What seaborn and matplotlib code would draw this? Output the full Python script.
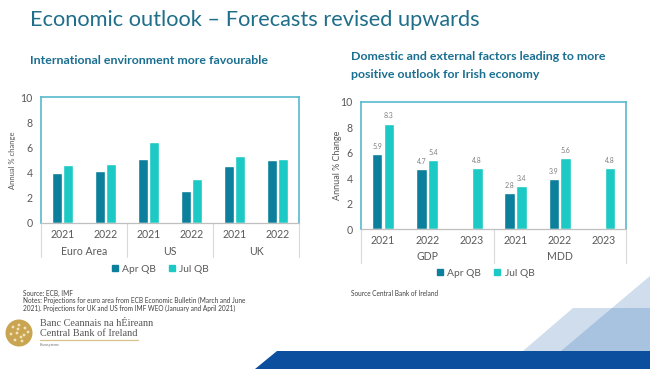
import numpy as np
import pandas as pd
import matplotlib
matplotlib.use("Agg")
import matplotlib.pyplot as plt
from matplotlib.patches import Polygon, Circle
from matplotlib.lines import Line2D
from matplotlib.transforms import blended_transform_factory
import seaborn as sns

# ---------------- data ----------------
series = ["Apr QB", "Jul QB"]

groups_l = ["Euro Area", "US", "UK"]
years_l = ["2021", "2022"]
apr_l = [4.0, 4.1, 5.1, 2.5, 4.5, 5.0]
jul_l = [4.6, 4.7, 6.4, 3.5, 5.3, 5.1]

groups_r = ["GDP", "MDD"]
years_r = ["2021", "2022", "2023"]
apr_r = [5.9, 4.7, np.nan, 2.8, 3.9, np.nan]
jul_r = [8.3, 5.4, 4.8, 3.4, 5.6, 4.8]

yticks = [0, 2, 4, 6, 8, 10]

# ---------------- style ----------------
sns.set_theme(style="white")
plt.rcParams['font.family'] = ['Lato', 'DejaVu Sans']

C_APR = "#0b7f9b"
C_JUL = "#1dc9c4"
C_FRAME = "#58b9cc"
C_TEXT = "#595959"
C_TITLE = "#1f6e8a"
C_SUB = "#1a6f91"

W, H = 650, 369
fig = plt.figure(figsize=(W / 100, H / 100), dpi=100)
fig.patch.set_facecolor("white")


def px(x, y):
    return (x / W, 1 - y / H)


def make_df(groups, years, apr, jul):
    cats = [f"{g}|{y}" for g in groups for y in years]
    rows = []
    for c, a, j in zip(cats, apr, jul):
        rows.append({"cat": c, "series": series[0], "val": a})
        rows.append({"cat": c, "series": series[1], "val": j})
    df = pd.DataFrame(rows).dropna()
    return df, cats


def draw_panel(rect, groups, years, apr, jul, ylabel, ylab_x, ylab_fs,
               sep_depth, grp_y, leg_xy, labels_on):
    ax = fig.add_axes(rect)
    df, cats = make_df(groups, years, apr, jul)
    sns.barplot(data=df, x="cat", y="val", hue="series", order=cats,
                hue_order=series, palette=[C_APR, C_JUL], width=0.53,
                gap=0.1, saturation=1, legend=False, ax=ax)
    ax.set_ylim(0, 10)
    ax.set_xlim(-0.5, len(cats) - 0.5)
    ax.set_yticks(yticks)
    ax.set_yticklabels([str(t) for t in yticks])
    ax.set_xticks(range(len(cats)))
    ax.set_xticklabels([c.split("|")[1] for c in cats])
    ax.tick_params(axis="both", length=0, labelsize=7.6, colors=C_TEXT)
    ax.tick_params(axis="x", pad=4.5)
    ax.tick_params(axis="y", pad=6)
    ax.set_xlabel("")
    ax.set_ylabel(ylabel, fontsize=ylab_fs, color=C_TEXT)
    ax.yaxis.set_label_coords(ylab_x, 0.5)
    for s in ["left", "top", "right"]:
        ax.spines[s].set_color(C_FRAME)
        ax.spines[s].set_linewidth(1.2)
    ax.spines["bottom"].set_color("#bfbfbf")
    ax.spines["bottom"].set_linewidth(0.9)

    tr = blended_transform_factory(ax.transData, ax.transAxes)
    n = len(years)
    for k in range(len(groups) + 1):
        xs = -0.5 + k * n
        ax.plot([xs, xs], [0, -sep_depth], transform=tr, color="#d9d9d9",
                lw=0.8, clip_on=False)
    for k, g in enumerate(groups):
        xc = k * n + (n - 1) / 2
        ax.text(xc, grp_y, g, transform=tr, ha="center", va="center",
                fontsize=7.6, color=C_TEXT)

    if labels_on:
        for cont in ax.containers:
            vals = cont.datavalues
            ax.bar_label(cont, labels=[f"{v:.1f}" for v in vals],
                         padding=3, fontsize=5, color="#7f7f7f")

    handles = [Line2D([0], [0], marker="s", color="none",
                      markerfacecolor=c, markeredgecolor=c, markersize=5)
               for c in [C_APR, C_JUL]]
    ax.legend(handles, series, loc="center", bbox_to_anchor=leg_xy,
              bbox_transform=ax.transAxes, ncol=2, frameon=False,
              fontsize=7.4, handlelength=0.8, handletextpad=0.3,
              columnspacing=1.2, labelcolor=C_TEXT)
    return ax


# left panel: x 41..299, y 97..223
draw_panel([41 / W, 1 - 223 / H, 258 / W, 126 / H], groups_l, years_l,
           apr_l, jul_l, "Annual % change", -0.097, 5.5, 0.27, -0.23,
           (0.46, -0.365), False)

# right panel: x 361..626, y 102..229
draw_panel([361 / W, 1 - 229 / H, 265 / W, 127 / H], groups_r, years_r,
           apr_r, jul_r, "Annual % Change", -0.072, 6.5, 0.27, -0.22,
           (0.468, -0.346), True)

# ---------------- titles ----------------
fig.text(*px(30, 20), "Economic outlook \u2013 Forecasts revised upwards",
         fontsize=15.7, color=C_TITLE, va="center", ha="left")
fig.text(*px(30, 60), "International environment more favourable",
         fontsize=8.9, fontweight="bold", color=C_SUB, va="center")
fig.text(*px(351, 57), "Domestic and external factors leading to more",
         fontsize=8.9, fontweight="bold", color=C_SUB, va="center")
fig.text(*px(351, 75), "positive outlook for Irish economy",
         fontsize=8.9, fontweight="bold", color=C_SUB, va="center")

# ---------------- notes ----------------
fig.text(*px(23, 293), "Source: ECB, IMF", fontsize=4.7, color="#404040",
         va="center")
fig.text(*px(23, 300.5), "Notes: Projections for euro area from ECB Economic "
         "Bulletin (March and June", fontsize=4.7, color="#404040", va="center")
fig.text(*px(23, 308), "2021). Projections for UK and US from IMF WEO "
         "(January and April 2021)", fontsize=4.7, color="#404040", va="center")
fig.text(*px(351, 293), "Source Central Bank of Ireland", fontsize=4.7,
         color="#404040", va="center")

# ---------------- logo ----------------
logo_ax = fig.add_axes([0, 0, 1, 1], facecolor="none")
logo_ax.set_xlim(0, W)
logo_ax.set_ylim(H, 0)
logo_ax.axis("off")
logo_ax.add_patch(Circle((19, 333), 13.5, color="#c9a552", ec="none"))
for (dx, dy) in [(-6, -6), (0, -8), (6, -5), (-8, 1), (-2, 0), (5, 2),
                 (-4, 7), (3, 8), (9, -1), (-1, -4), (2, 4)]:
    logo_ax.add_patch(Circle((19 + dx, 333 + dy), 1.4, color="#efe2bd",
                             ec="none"))
logo_ax.text(40, 323, "Banc Ceannais na h\u00c9ireann", fontsize=7.4,
             family="Liberation Serif", color="#555555", va="center")
logo_ax.text(40, 333, "Central Bank of Ireland", fontsize=7.4,
             family="Liberation Serif", color="#555555", va="center")
logo_ax.plot([40, 138], [339.5, 339.5], color="#d8c38e", lw=0.9)
logo_ax.text(40, 345, "Eurosystem", fontsize=3, family="Liberation Serif",
             color="#666666", va="center")

# ---------------- decorative shapes ----------------
logo_ax.add_patch(Polygon([(523, 351), (573, 308), (650, 308), (650, 351)],
                          closed=True, color="#cfdded", ec="none"))
logo_ax.add_patch(Polygon([(612, 308), (650, 276), (650, 308)],
                          closed=True, color="#cfdded", ec="none"))
logo_ax.add_patch(Polygon([(561, 351), (612, 308), (650, 308), (650, 351)],
                          closed=True, color="#a8c3df", ec="none"))
logo_ax.add_patch(Polygon([(255, 369), (277, 351), (650, 351), (650, 369)],
                          closed=True, color="#0b4f9e", ec="none"))

fig.savefig("out.png", dpi=100, facecolor="white")
